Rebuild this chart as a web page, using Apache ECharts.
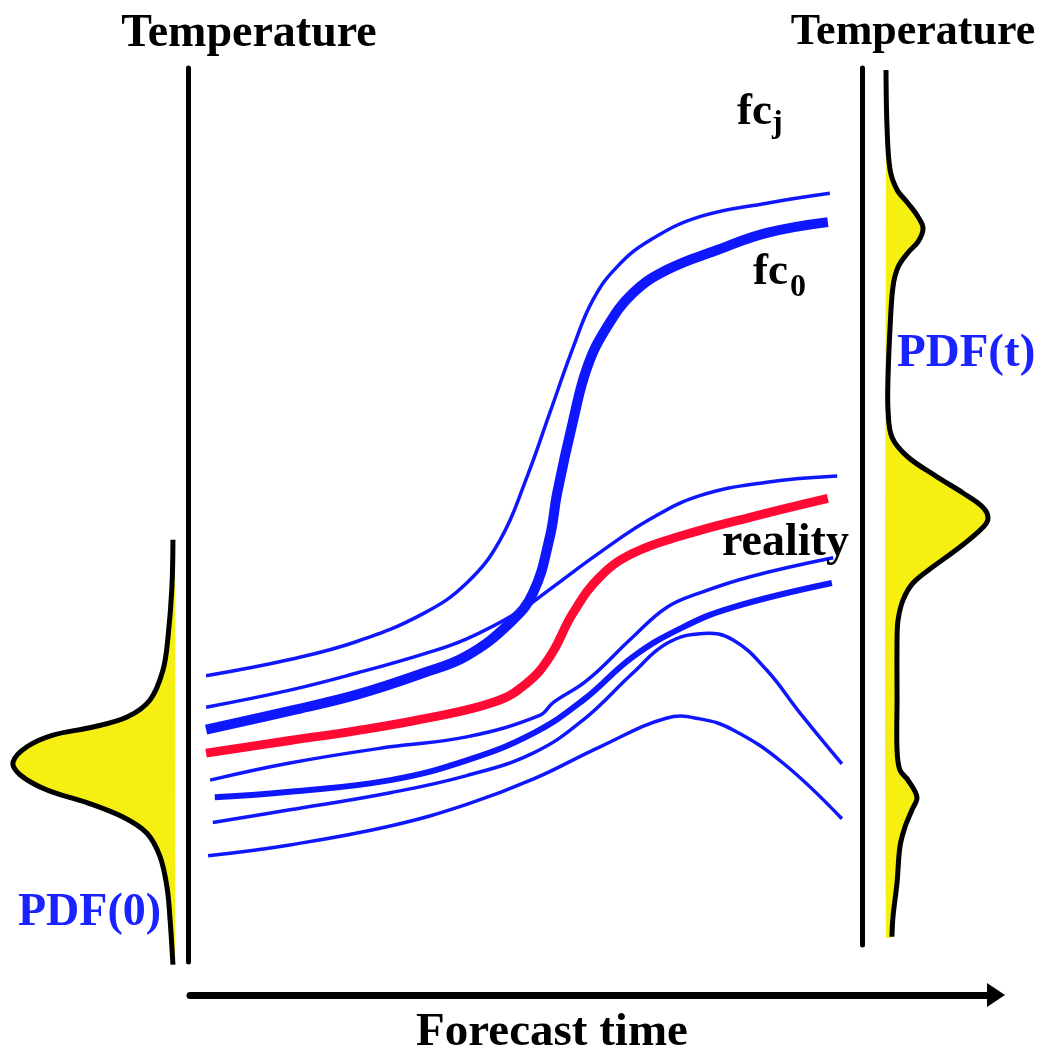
<!DOCTYPE html>
<html>
<head>
<meta charset="utf-8">
<script src="https://cdn.jsdelivr.net/npm/echarts/dist/echarts.min.js"></script>
<style>
html,body{margin:0;padding:0;background:#fff;}
#chart{width:1057px;height:1049px;}
</style>
</head>
<body>
<div id="chart"></div>
<script>
// Forecast time (0-100) vs temperature (0-100), schematic values
const memberA = [[2.4,32.7],[14.9,34.5],[24.9,36.5],[34.8,39.6],[41.3,43.0],[46.3,47.8],[50.3,54.8],[53.7,61.9],[57.2,69.2],[60.1,74.4],[63.7,78.1],[68.7,81.1],[76.1,83.7],[86.1,85.2],[95.5,86.3]];
const memberB = [[2.4,29.2],[14.9,31.1],[24.9,33.0],[34.8,35.1],[41.3,36.8],[48.8,39.7],[53.7,42.3],[61.2,46.4],[68.7,50.1],[76.1,52.7],[86.1,54.2],[96.6,54.9]];
const fc0 = [[2.4,26.7],[14.9,28.8],[24.9,30.6],[34.8,33.0],[41.3,34.9],[47.8,38.6],[51.2,41.9],[53.7,48.1],[54.8,53.0],[57.2,61.1],[59.3,67.0],[62.2,71.4],[66.1,75.2],[71.2,77.8],[78.7,80.0],[86.1,81.9],[95.2,83.1]];
const reality = [[2.4,24.1],[14.9,25.5],[24.9,26.6],[34.8,27.9],[45.5,29.8],[50.3,31.9],[53.7,34.8],[57.2,39.7],[61.2,43.7],[66.1,46.3],[73.6,48.3],[83.6,50.3],[95.2,52.4]];
const memberC = [[3.0,21.1],[14.9,23.0],[29.9,24.8],[41.3,25.9],[52.2,28.3],[54.2,29.7],[59.3,32.2],[66.1,37.0],[71.2,40.3],[76.1,41.9],[83.6,43.7],[96.0,45.8]];
const memberD = [[3.7,19.2],[14.9,19.8],[29.9,21.1],[41.3,23.3],[51.2,26.3],[58.7,30.0],[66.1,34.8],[73.6,38.1],[81.0,40.3],[95.8,43.0]];
const memberE = [[3.4,16.4],[14.9,17.8],[29.9,19.7],[41.3,21.6],[51.2,24.1],[58.7,27.8],[66.1,33.0],[71.2,36.3],[76.6,37.4],[81.0,36.7],[86.1,33.3],[91.0,28.6],[97.3,22.9]];
const memberF = [[2.7,12.7],[14.9,13.9],[29.9,16.0],[41.3,18.4],[51.2,21.2],[61.2,24.8],[71.2,28.0],[76.1,27.9],[81.0,26.7],[88.5,23.0],[97.3,16.8]];

// PDFs: [density, temperature]
const pdf0 = [[0.012,47.8],[0.018,42.6],[0.041,37.0],[0.071,33.3],[0.147,30.0],[0.282,28.1],[0.482,27.0],[0.718,26.1],[0.871,24.8],[0.953,23.1],[0.912,21.7],[0.753,20.0],[0.518,18.6],[0.306,17.0],[0.165,15.2],[0.088,12.6],[0.047,9.2],[0.029,5.6],[0.012,0.6]];
const pdfT = [[0.0,100],[0.006,93.7],[0.024,88.9],[0.065,86.7],[0.129,85.2],[0.188,83.7],[0.218,82.4],[0.188,80.9],[0.129,79.7],[0.071,78.1],[0.041,75.9],[0.024,71.4],[0.012,65.9],[0.012,62.2],[0.035,59.2],[0.129,57.0],[0.3,54.8],[0.453,53.0],[0.571,51.4],[0.6,50.2],[0.571,49.2],[0.435,47.0],[0.276,44.8],[0.159,43.0],[0.1,41.1],[0.071,38.9],[0.065,36.7],[0.065,30.0],[0.065,24.4],[0.082,22.2],[0.129,21.1],[0.182,19.2],[0.153,17.8],[0.112,15.9],[0.082,13.7],[0.065,9.7],[0.041,5.9],[0.035,3.7]];

const BLUE = '#0f17ff';
const RED = '#ff0a33';
const YELLOW = '#f5f012';
const TEXT_BLUE = '#1a22ff';
const SERIF = '"Liberation Serif","Times New Roman",serif';

const chart = echarts.init(document.getElementById('chart'));

function hiddenAxis(gi, min, max, extra) {
  return Object.assign({type:'value', gridIndex:gi, min:min, max:max, show:false}, extra || {});
}
function lineAxis(gi, width, extra) {
  return Object.assign({
    type:'value', gridIndex:gi, min:0, max:1, show:true,
    axisLine:{show:true, onZero:false, lineStyle:{color:'#000', width:width}},
    axisTick:{show:false}, axisLabel:{show:false}, splitLine:{show:false}
  }, extra || {});
}

// smooth curve drawn through the grid's own axes
function curve(name, data, width, color, z) {
  return {
    name:name, type:'custom', coordinateSystem:'cartesian2d',
    xAxisIndex:0, yAxisIndex:0, data:[[0,0]], z:z || 2,
    renderItem:function(params, api){
      const pts = data.map(function(p){ return api.coord(p); });
      return {type:'polyline', shape:{points:pts, smooth:0.42},
        style:{fill:null, stroke:color, lineWidth:width}};
    }
  };
}

function pdfSeries(name, data, gi) {
  return {
    name:name, type:'custom', coordinateSystem:'cartesian2d',
    xAxisIndex:gi, yAxisIndex:gi, data:[[0,0]], clip:false, z:3,
    renderItem:function(params, api){
      const pts = data.map(function(p){ return api.coord(p); });
      const top = api.coord([0, data[0][1]]);
      const bottom = api.coord([0, data[data.length-1][1]]);
      return {type:'group', children:[
        {type:'polygon', shape:{points:pts.concat([bottom, top]), smooth:0.35},
         style:{fill:YELLOW, stroke:null}},
        {type:'polyline', shape:{points:pts, smooth:0.35},
         style:{fill:null, stroke:'#000', lineWidth:5}}
      ]};
    }
  };
}

function txt(x, y, text, size, color, align) {
  return {type:'text', x:x, y:y, z:10, style:{
    text:text, font:'bold ' + size + 'px ' + SERIF, fill:color,
    align:align || 'left', verticalAlign:'middle'
  }};
}

chart.setOption({
  animation:false,
  backgroundColor:'#fff',
  grid:[
    {left:190, top:70, width:670, height:900},
    {left:188, top:68, width:1, height:894},
    {left:862, top:68, width:1, height:877},
    {left:190, top:994, width:806, height:1},
    {left:5, top:70, width:170, height:900},
    {left:886, top:70, width:170, height:900}
  ],
  xAxis:[
    hiddenAxis(0, 0, 100),
    hiddenAxis(1, 0, 1),
    hiddenAxis(2, 0, 1),
    lineAxis(3, 7, {axisLine:{show:true, onZero:false, symbol:['none','triangle'], symbolSize:[24,18], lineStyle:{color:'#000', width:7}}}),
    hiddenAxis(4, 0, 1, {inverse:true}),
    hiddenAxis(5, 0, 1)
  ],
  yAxis:[
    hiddenAxis(0, 0, 100),
    lineAxis(1, 5),
    lineAxis(2, 5),
    hiddenAxis(3, 0, 1),
    hiddenAxis(4, 0, 100),
    hiddenAxis(5, 0, 100)
  ],
  series:[
    curve('member A', memberA, 3.5, BLUE),
    curve('member B', memberB, 3.5, BLUE),
    curve('member C', memberC, 3.5, BLUE),
    curve('member D', memberD, 6, BLUE),
    curve('member E', memberE, 3.5, BLUE),
    curve('member F', memberF, 3.5, BLUE),
    curve('reality', reality, 9, RED, 3),
    curve('fc0', fc0, 10, BLUE, 4),
    pdfSeries('PDF(0)', pdf0, 4),
    pdfSeries('PDF(t)', pdfT, 5)
  ],
  graphic:[
    txt(249, 34, 'Temperature', 46, '#000', 'center'),
    txt(913, 33, 'Temperature', 44, '#000', 'center'),
    txt(737, 112, 'fc', 45, '#000'),
    txt(772, 124, 'j', 32, '#000'),
    txt(753, 272, 'fc', 45, '#000'),
    txt(790, 288, '0', 32, '#000'),
    txt(722, 543, 'reality', 46, '#000'),
    txt(18, 913, 'PDF(0)', 46, TEXT_BLUE),
    txt(897, 354, 'PDF(t)', 47, TEXT_BLUE),
    txt(552, 1033, 'Forecast time', 47, '#000', 'center')
  ]
});
</script>
</body>
</html>
